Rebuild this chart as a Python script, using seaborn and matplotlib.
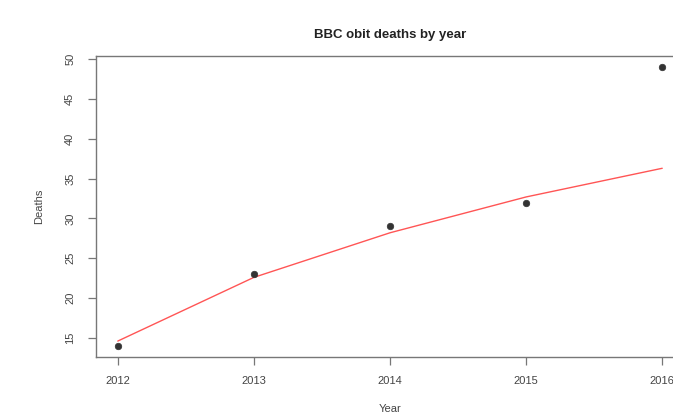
import matplotlib
matplotlib.use("Agg")
import matplotlib.pyplot as plt
import pandas as pd
import seaborn as sns

# deaths per year and the fitted curve
years = [2012, 2013, 2014, 2015, 2016]
deaths = [14, 23, 29, 32, 49]
fitted = [14.6, 22.6, 28.2, 32.7, 36.3]
yticks = [15, 20, 25, 30, 35, 40, 45, 50]

df = pd.DataFrame({"Year": years, "Deaths": deaths, "Fit": fitted})

sns.set_style("ticks")
plt.rcParams["font.family"] = ["Liberation Sans", "DejaVu Sans"]

fig = plt.figure(figsize=(6.73, 4.16), dpi=100)
ax = fig.add_axes([96 / 673, 59 / 416, 588 / 673, 301 / 416])

sns.lineplot(data=df, x="Year", y="Fit", color="#ff5555", linewidth=1.0, ax=ax)
sns.scatterplot(data=df, x="Year", y="Deaths", color="#333333", s=22,
                edgecolor="#333333", linewidth=0.5, ax=ax, zorder=3)

ax.set_xlim(2011.84, 2016.16)
ax.set_ylim(12.6, 50.4)
ax.set_xticks(years)
ax.set_yticks(yticks)

for s in ax.spines.values():
    s.set_color("#777777")
    s.set_linewidth(1.0)
ax.tick_params(colors="#777777", labelcolor="#444444", length=6, width=0.9,
               labelsize=8)
ax.tick_params(axis="x", pad=8)
ax.tick_params(axis="y", pad=9, labelrotation=90)
for lab in ax.get_yticklabels():
    lab.set_va("center")

ax.set_title("BBC obit deaths by year", fontsize=9.5, fontweight="bold",
             color="#222222", pad=13)
ax.set_xlabel("Year", fontsize=8, color="#444444", labelpad=13)
ax.set_ylabel("Deaths", fontsize=8, color="#444444", labelpad=15)

fig.savefig("out.png", dpi=100)
